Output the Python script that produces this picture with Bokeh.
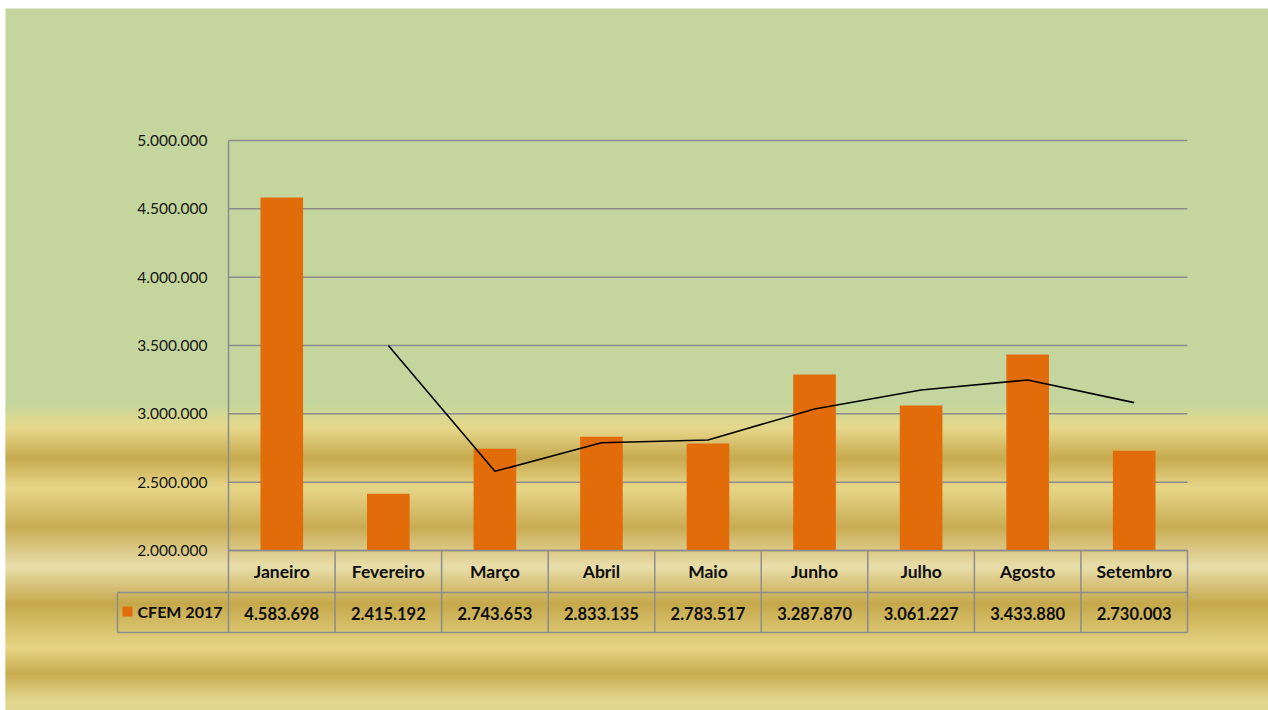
from bokeh.plotting import figure
from bokeh.models import Range1d, LinearAxis, FixedTicker, CustomJSTickFormatter
from bokeh.core.properties import value
from bokeh.embed import file_html
from bokeh.resources import INLINE

# ---------------- data ----------------
months = ["Janeiro", "Fevereiro", "Março", "Abril", "Maio", "Junho", "Julho", "Agosto", "Setembro"]
cfem_2017 = [4583698, 2415192, 2743653, 2833135, 2783517, 3287870, 3061227, 3433880, 2730003]
# 2-period moving-average trendline as drawn (starts at Fevereiro)
trend_x = [1, 2, 3, 4, 5, 6, 7, 8]
trend_values = [3499445, 2579423, 2788394, 2808326, 3035694, 3174549, 3247554, 3081942]
y_ticks = [2000000, 2500000, 3000000, 3500000, 4000000, 4500000, 5000000]
series_name = "CFEM 2017"

# ---------------- layout (pixels) ----------------
W, H = 1268, 710
PX_LEFT, PX_RIGHT = 228, 1187        # plot area x
PX_TOP, PX_BASE = 140, 550           # y of 5.000.000 and 2.000.000
ROW1_BOTTOM, ROW2_BOTTOM = 592, 632  # table rows
LEGEND_LEFT = 117
n = len(months)
pxu = (PX_RIGHT - PX_LEFT) / n
x_start = -0.5 - PX_LEFT / pxu
x_end = n - 0.5 + (W - PX_RIGHT) / pxu
ypp = (y_ticks[-1] - y_ticks[0]) / (PX_BASE - PX_TOP)
y_end = y_ticks[-1] + PX_TOP * ypp
y_start = y_ticks[0] - (H - PX_BASE) * ypp
y_table_bottom = y_ticks[0] - (ROW2_BOTTOM - PX_BASE) * ypp

FONT = "Lato"
GRID = "#8c8c8c"
ORANGE = "#e36c0a"
GREEN = "#c4d69d"

p = figure(width=W, height=H, output_backend="svg", toolbar_location=None,
           x_range=Range1d(x_start, x_end), y_range=Range1d(y_start, y_end),
           x_axis_type=None, y_axis_type=None, min_border=0,
           outline_line_color=None, background_fill_color="white",
           border_fill_color="white")
p.extra_x_ranges = {"px": Range1d(0, W)}
p.extra_y_ranges = {"px": Range1d(H, 0)}

# ---------------- background (green top, golden stripes) ----------------
keys = [(404, GREEN), (416, "#d8d892"), (428, "#e6d78a"),
        (458, "#c6a94e"), (487, "#e7d688"), (527, "#c8ac54"), (566, "#e9deab"),
        (603, "#c5a84b"), (647, "#e6d585"), (673, "#c8ab50"), (700, "#e2d68d"),
        (714, "#e0d590")]

def hx(c):
    return [int(c[i:i + 2], 16) for i in (1, 3, 5)]

def color_at(yy):
    for (a, ca), (b, cb) in zip(keys[:-1], keys[1:]):
        if a <= yy < b:
            t = (yy - a) / (b - a)
            c1, c2 = hx(ca), hx(cb)
            return "#%02x%02x%02x" % tuple(round(c1[k] + (c2[k] - c1[k]) * t) for k in range(3))
    return keys[-1][1]

# solid green block
p.quad(left=[5], right=[W], top=[8], bottom=[keys[0][0] + 1], fill_color=GREEN, line_color=None,
       x_range_name="px", y_range_name="px")
tops, bots, cols = [], [], []
yy = keys[0][0]
while yy < H:
    tops.append(yy)
    bots.append(yy + 3)   # overlap to avoid seams
    cols.append(color_at(yy + 1))
    yy += 2
p.quad(left=5, right=W, top=tops, bottom=bots, fill_color=cols, line_color=None,
       x_range_name="px", y_range_name="px")

# ---------------- gridlines ----------------
p.segment(x0=[-0.5] * len(y_ticks), x1=[n - 0.5] * len(y_ticks), y0=y_ticks, y1=y_ticks,
          line_color=GRID, line_width=1.5)

# ---------------- bars & trend ----------------
xs = list(range(n))
p.vbar(x=xs, top=cfem_2017, bottom=y_ticks[0], width=0.4, fill_color=ORANGE, line_color=None)
p.line(x=trend_x, y=trend_values, line_color="black", line_width=1.6)

# ---------------- axes ----------------
fmt = CustomJSTickFormatter(code="return Math.round(tick).toString().replace(/\\B(?=(\\d{3})+(?!\\d))/g, '.');")
yax = LinearAxis(fixed_location=-0.5, ticker=FixedTicker(ticks=y_ticks), formatter=fmt,
                 bounds=(y_table_bottom, y_ticks[-1]))
yax.axis_line_color = GRID
yax.axis_line_width = 1.5
yax.major_tick_line_color = None
yax.minor_tick_line_color = None
yax.major_tick_out = 0
yax.major_tick_in = 0
yax.major_label_standoff = 21
yax.major_label_text_font = FONT
yax.major_label_text_font_size = "15.5px"
yax.major_label_text_color = "#141414"
p.add_layout(yax, "left")

xax = LinearAxis(fixed_location=y_ticks[0], ticker=FixedTicker(ticks=xs),
                 major_label_overrides={i: m for i, m in enumerate(months)},
                 bounds=(-0.5, n - 0.5))
xax.axis_line_color = GRID
xax.axis_line_width = 1.5
xax.major_tick_line_color = None
xax.minor_tick_line_color = None
xax.major_tick_out = 0
xax.major_tick_in = 0
xax.major_label_standoff = 10
xax.major_label_text_font = FONT
xax.major_label_text_font_size = "17.5px"
xax.major_label_text_font_style = "bold"
xax.major_label_text_color = "#0d0d0d"
p.add_layout(xax, "below")

# ---------------- data table ----------------
vx = [k - 0.5 for k in range(1, n + 1)]
p.segment(x0=vx, x1=vx, y0=[PX_BASE] * len(vx), y1=[ROW2_BOTTOM] * len(vx),
          line_color=GRID, line_width=1.5, y_range_name="px")
legend_x0 = -0.5 - (PX_LEFT - LEGEND_LEFT) / pxu
p.segment(x0=[legend_x0], x1=[legend_x0], y0=[ROW1_BOTTOM], y1=[ROW2_BOTTOM],
          line_color=GRID, line_width=1.5, y_range_name="px")
p.segment(x0=[legend_x0, legend_x0], x1=[n - 0.5, n - 0.5], y0=[ROW1_BOTTOM, ROW2_BOTTOM],
          y1=[ROW1_BOTTOM, ROW2_BOTTOM], line_color=GRID, line_width=1.5, y_range_name="px")

labels = [f"{v:,}".replace(",", ".") for v in cfem_2017]
p.text(x=xs, y=[(ROW1_BOTTOM + ROW2_BOTTOM) / 2 + 0.5] * n, text=labels, y_range_name="px",
       text_font=value(FONT), text_font_size="16.5px", text_font_style="bold",
       text_align="center", text_baseline="middle", text_color="#0d0d0d")

# legend key inside the table
p.rect(x=[127], y=[611], width=10, height=10, fill_color=ORANGE, line_color=None,
       x_range_name="px", y_range_name="px")
p.text(x=[137], y=[611], text=[series_name], x_range_name="px", y_range_name="px",
       text_font=value(FONT), text_font_size="16px", text_font_style="bold",
       text_align="left", text_baseline="middle", text_color="#0d0d0d")

open("out.html", "w").write(file_html(p, INLINE))
